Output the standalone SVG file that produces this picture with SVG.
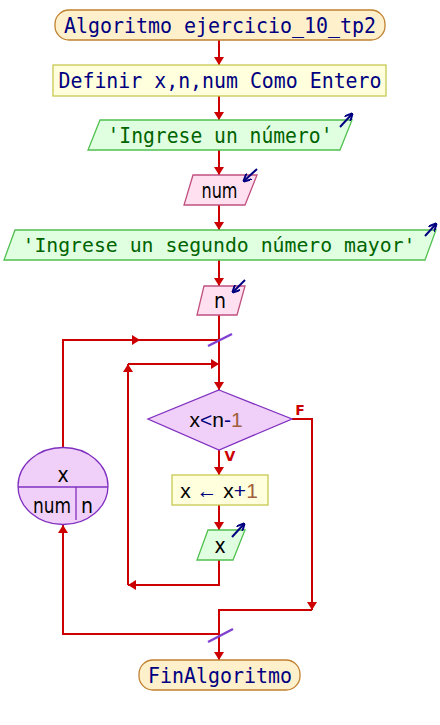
<svg xmlns="http://www.w3.org/2000/svg" width="440" height="725" viewBox="0 0 440 725">
<defs>
<marker id="ah" markerUnits="userSpaceOnUse" markerWidth="8" markerHeight="10" refX="8" refY="5" orient="auto">
<path d="M0,0 L8,5 L0,10 z" fill="#cc0000"/>
</marker>
<marker id="io" markerUnits="userSpaceOnUse" markerWidth="8" markerHeight="8" refX="7" refY="4" orient="auto">
<path d="M0,0 L8,4 L0,8" fill="none" stroke="#000080" stroke-width="2"/>
</marker>
<style>
.mono{font-family:"DejaVu Sans Mono","Liberation Mono",monospace;font-size:22px;text-anchor:middle}
.sans{font-family:"DejaVu Sans","Liberation Sans",sans-serif;font-size:21px;font-stretch:condensed;text-anchor:middle;fill:#000}
.lib{font-family:"Liberation Sans",Arial,sans-serif;font-size:21px;text-anchor:middle;fill:#000}
.term{fill:#fff0cc;stroke:#c08030;stroke-width:1.3}
.proc{fill:#ffffdd;stroke:#c8c850;stroke-width:1.3}
.out{fill:#e0ffe0;stroke:#50c050;stroke-width:1.3}
.in{fill:#ffe0f0;stroke:#c05080;stroke-width:1.3}
.cond{fill:#f0d0f8;stroke:#8030c0;stroke-width:1.3}
.navy{fill:#000080}
.green{fill:#006400}
.op{fill:#000080}
.num{fill:#a0603a}
.edge{fill:none;stroke:#cc0000;stroke-width:2}
.slash{stroke:#8040d0;stroke-width:2.5}
.icon{stroke:#000080;stroke-width:2;fill:none}
.lbl{font-family:"DejaVu Sans","Liberation Sans",sans-serif;font-size:14px;font-weight:bold;fill:#cc0000;text-anchor:middle}
</style>
</defs>

<g id="connectors">
<path class="edge" d="M219,40 V65" marker-end="url(#ah)"/>
<path class="edge" d="M219,96 V120" marker-end="url(#ah)"/>
<path class="edge" d="M219,150 V175" marker-end="url(#ah)"/>
<path class="edge" d="M219,205 V230" marker-end="url(#ah)"/>
<path class="edge" d="M219,260 V286" marker-end="url(#ah)"/>
<path class="edge" d="M219,315 V390" marker-end="url(#ah)"/>
<path class="edge" d="M63,448 V340 H140" marker-end="url(#ah)"/>
<path class="edge" d="M140,340 H219"/>
<path class="edge" d="M128,585 V364" marker-end="url(#ah)"/>
<path class="edge" d="M128,364 H219" marker-end="url(#ah)"/>
<path class="edge" d="M219,450 V475" marker-end="url(#ah)"/>
<path class="edge" d="M219,505 V530" marker-end="url(#ah)"/>
<path class="edge" d="M219,560 V585 H128" marker-end="url(#ah)"/>
<path class="edge" d="M292,419 H312 V610" marker-end="url(#ah)"/>
<path class="edge" d="M312,610 H219 V660" marker-end="url(#ah)"/>
<path class="edge" d="M219,634 H63 V525" marker-end="url(#ah)"/>
<line class="slash" x1="208" y1="346" x2="232" y2="334"/>
<line class="slash" x1="208" y1="642" x2="233" y2="629"/>
<text class="lbl" x="300" y="415">F</text>
<text class="lbl" x="230" y="461">V</text>
</g>

<g id="start">
<rect class="term" x="55" y="10" width="330" height="30" rx="14" ry="14"/>
<text class="mono navy" x="220" y="33" textLength="312" lengthAdjust="spacingAndGlyphs">Algoritmo ejercicio_10_tp2</text>
</g>

<g id="definir">
<rect class="proc" x="53" y="65" width="333" height="31"/>
<text class="mono navy" x="220" y="88" textLength="323" lengthAdjust="spacingAndGlyphs">Definir x,n,num Como Entero</text>
</g>

<g id="escribir1">
<polygon class="out" points="100,120 352,120 340,150 88,150"/>
<text class="mono green" x="220" y="143" textLength="225" lengthAdjust="spacingAndGlyphs">'Ingrese un número'</text>
<line class="icon" x1="340" y1="127" x2="352" y2="114" marker-end="url(#io)"/>
</g>

<g id="leer1">
<polygon class="in" points="193,175 257,175 245,205 184,205"/>
<text class="sans" x="219.5" y="198" textLength="36" lengthAdjust="spacingAndGlyphs">num</text>
<line class="icon" x1="257" y1="169" x2="244" y2="181" marker-end="url(#io)"/>
</g>

<g id="escribir2">
<polygon class="out" points="15,230 436,230 425,260 4,260"/>
<text class="mono green" x="219" y="252" style="font-size:19.8px">'Ingrese un segundo número mayor'</text>
<line class="icon" x1="425" y1="236" x2="436" y2="224" marker-end="url(#io)"/>
</g>

<g id="leer2">
<polygon class="in" points="204,286 245,286 237,315 197,315"/>
<text class="sans" x="220" y="308">n</text>
<line class="icon" x1="245" y1="280" x2="233" y2="292" marker-end="url(#io)"/>
</g>

<g id="para">
<ellipse class="cond" cx="63" cy="486" rx="45" ry="38.5"/>
<line x1="18" y1="487" x2="108" y2="487" stroke="#8030c0" stroke-width="1.3"/>
<line x1="76" y1="487" x2="76" y2="520" stroke="#8030c0" stroke-width="1.3"/>
<text class="sans" x="63" y="482">x</text>
<text class="sans" x="52" y="513" textLength="38" lengthAdjust="spacingAndGlyphs">num</text>
<text class="sans" x="87" y="513">n</text>
</g>

<g id="mientras">
<polygon class="cond" points="219,390 292,419 219,450 148,419"/>
<text class="lib" x="216" y="427">x<tspan class="op">&lt;</tspan>n<tspan class="op">-</tspan><tspan class="num">1</tspan></text>
</g>

<g id="asignar">
<rect class="proc" x="172" y="475" width="96" height="30"/>
<text class="lib" x="219" y="498">x <tspan class="op">←</tspan> x<tspan class="op">+</tspan><tspan class="num">1</tspan></text>
</g>

<g id="escribir3">
<polygon class="out" points="208,530 245,530 233,560 197,560"/>
<text class="sans" x="220" y="553">x</text>
<line class="icon" x1="232" y1="537" x2="244" y2="524" marker-end="url(#io)"/>
</g>

<g id="end">
<rect class="term" x="139" y="660" width="161" height="30" rx="14" ry="14"/>
<text class="mono navy" x="220" y="683" textLength="144" lengthAdjust="spacingAndGlyphs">FinAlgoritmo</text>
</g>
</svg>
